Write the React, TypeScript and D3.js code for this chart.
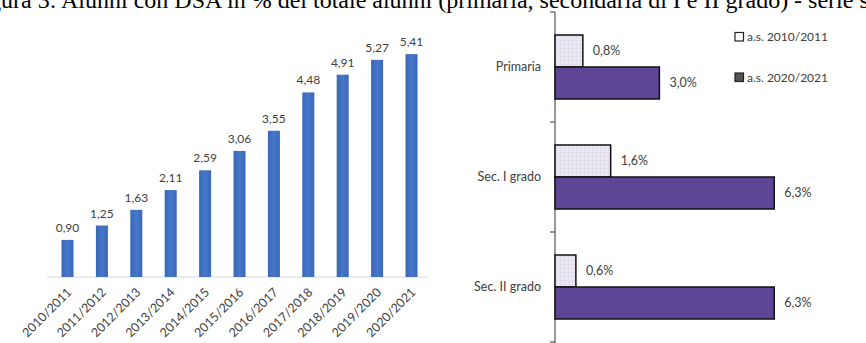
import React from "react";
import * as d3 from "d3";

const years = ["2010/2011","2011/2012","2012/2013","2013/2014","2014/2015","2015/2016","2016/2017","2017/2018","2018/2019","2019/2020","2020/2021"];
const dsaValues = [0.90,1.25,1.63,2.11,2.59,3.06,3.55,4.48,4.91,5.27,5.41];

const levels = ["Primaria","Sec. I grado","Sec. II grado"];
const series2010 = [0.8,1.6,0.6];
const series2020 = [3.0,6.3,6.3];
const legendLabels = ["a.s. 2010/2011","a.s. 2020/2021"];

const title = "Figura 3: Alunni con DSA in % del totale alunni (primaria, secondaria di I e II grado) - serie storica";

const W = 866, H = 343;
const fmt = (v: number, d: number) => v.toFixed(d).replace(".", ",");
const FONT = "Lato, 'Open Sans', sans-serif";
const TXT = "#404040";

export default function App() {
  // left chart scales
  const x = d3.scalePoint<string>().domain(years).range([67.5, 411.5]);
  const y = d3.scaleLinear().domain([0, 6]).range([277, 277 - 41.2 * 6]);
  const bw = 12;

  // right chart scales
  const yb = d3.scaleBand<string>().domain(levels).range([12, 342]).paddingInner(0).paddingOuter(0);
  const inner = d3.scaleBand<string>().domain(["a", "b"]).range([0, 64]);
  const xr = d3.scaleLinear().domain([0, 7]).range([555, 555 + 34.8 * 7]);
  const seriesList = [series2010, series2020];
  const fills = ["url(#lightPat)", "url(#darkPat)"];

  return (
    <svg width={W} height={H} style={{ position: "absolute", left: 0, top: 0 }} fontFamily={FONT}>
      <defs>
        <pattern id="lightPat" width="4" height="4" patternUnits="userSpaceOnUse">
          <rect width="4" height="4" fill="#ece8f2" />
          <path d="M0 0.5H4M0.5 0V4" stroke="#dcd6e6" strokeWidth="0.6" />
        </pattern>
        <pattern id="darkPat" width="4" height="4" patternUnits="userSpaceOnUse">
          <rect width="4" height="4" fill="#5c4393" />
          <path d="M0 0.5H4M0.5 0V4" stroke="#62499a" strokeWidth="0.6" />
        </pattern>
        <linearGradient id="blueGrad" x1="0" x2="1" y1="0" y2="0">
          <stop offset="0" stopColor="#3a68b8" />
          <stop offset="0.5" stopColor="#4677c8" />
          <stop offset="1" stopColor="#3a68b8" />
        </linearGradient>
      </defs>

      {/* title (cut off at top, as in the source page) */}
      <text x={-31} y={8} fontFamily="'Liberation Serif', 'Times New Roman', serif" fontSize={24} fill="#000">{title}</text>

      {/* left chart */}
      <line x1={47} x2={428} y1={y(0)} y2={y(0)} stroke="#d9d9d9" strokeWidth={1} />
      {years.map((yr, i) => (
        <g key={yr}>
          <rect x={(x(yr) as number) - bw / 2} y={y(dsaValues[i])} width={bw} height={y(0) - y(dsaValues[i])} fill="url(#blueGrad)" />
          <text x={x(yr)} y={y(dsaValues[i]) - 8} textAnchor="middle" fontSize={12} fill={TXT}>{fmt(dsaValues[i], 2)}</text>
          <text transform={`translate(${(x(yr) as number) + 5},${y(0) + 16}) rotate(-45)`} textAnchor="end" fontSize={12.5} fill={TXT}>{yr}</text>
        </g>
      ))}

      {/* right chart */}
      <line x1={555} x2={555} y1={12} y2={H} stroke="#555" strokeWidth={1.2} />
      {levels.map((lv) => (
        <line key={"t" + lv} x1={550} x2={555} y1={yb(lv)} y2={yb(lv)} stroke="#555" strokeWidth={1.2} />
      ))}
      <line x1={550} x2={555} y1={yb.range()[1]} y2={yb.range()[1]} stroke="#555" strokeWidth={1.2} />
      {levels.map((lv, j) => {
        const top = (yb(lv) as number) + (yb.bandwidth() - 64) / 2;
        return (
          <g key={lv}>
            <text x={541} y={top + 32} dy="0.35em" textAnchor="end" fontSize={12.5} fill={TXT}>{lv}</text>
            {seriesList.map((s, k) => {
              const by = top + (inner(k === 0 ? "a" : "b") as number);
              return (
                <g key={k}>
                  <rect x={xr(0)} y={by} width={xr(s[j]) - xr(0)} height={inner.bandwidth()} fill={fills[k]} stroke="#111" strokeWidth={1.5} />
                  <text x={xr(s[j]) + 10} y={by + inner.bandwidth() / 2} dy="0.35em" fontSize={12.5} fill={TXT}>{fmt(s[j], 1) + "%"}</text>
                </g>
              );
            })}
          </g>
        );
      })}

      {/* legend */}
      {legendLabels.map((lb, k) => (
        <g key={lb} transform={`translate(735,${32.5 + k * 40.5})`}>
          <rect x={0} y={0} width={8.5} height={8.5} fill={k === 0 ? "#fff" : "#555"} stroke="#222" strokeWidth={1.2} />
          <text x={12} y={8.5} fontSize={12} fill={TXT}>{lb}</text>
        </g>
      ))}
    </svg>
  );
}
